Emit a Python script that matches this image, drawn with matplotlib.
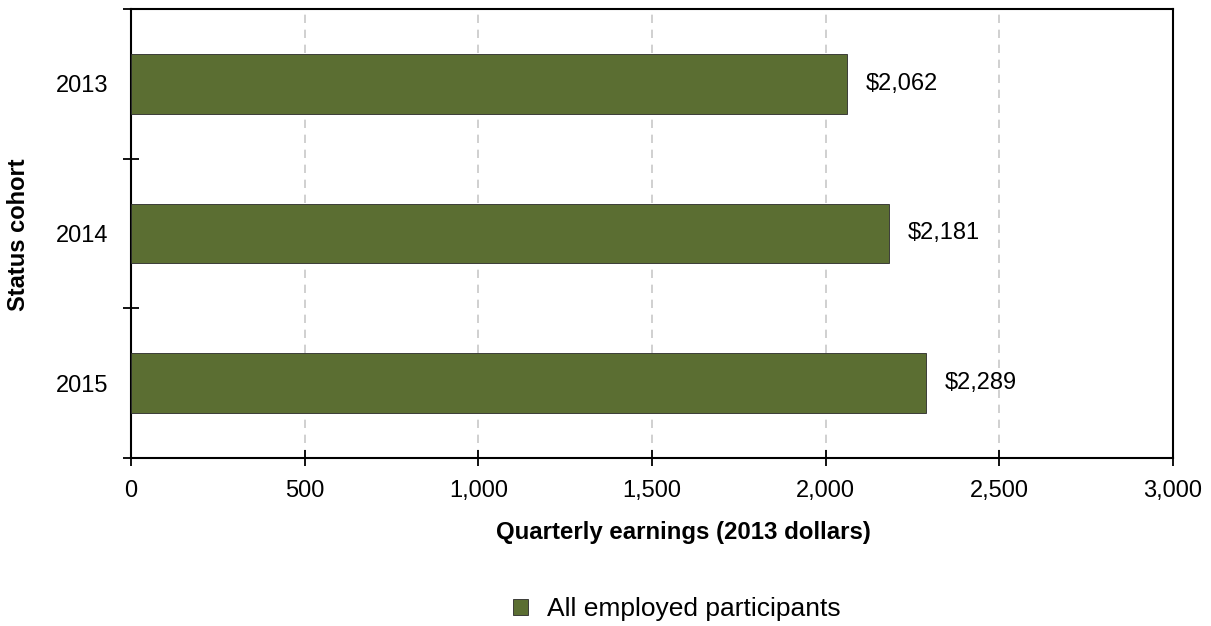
import matplotlib
matplotlib.use("Agg")
import matplotlib.pyplot as plt
from matplotlib.ticker import FuncFormatter, MultipleLocator, FixedLocator

plt.rcParams['font.family'] = ['Liberation Sans', 'DejaVu Sans']

categories = ["2013", "2014", "2015"]
values = [2062, 2181, 2289]
series_name = "All employed participants"
bar_color = "#5B6E32"

FS = 17.0
W, H = 1211, 626
fig = plt.figure(figsize=(W / 100, H / 100), dpi=100)
ax = fig.add_axes([131 / W, 1 - 458 / H, (1173 - 131) / W, (458 - 9) / H])

pos = list(range(len(categories)))
bars = ax.barh(pos, values, height=0.4, color=bar_color, edgecolor="#2a2a2a",
               linewidth=0.6, label=series_name, zorder=3)
for p, v in zip(pos, values):
    ax.annotate(f"${v:,}", xy=(v, p), xytext=(13.5, 0), textcoords="offset points",
                va="center", ha="left", fontsize=FS, zorder=4)

ax.set_xlim(0, 3000)
ax.set_ylim(len(categories) - 0.5, -0.5)
ax.xaxis.set_major_locator(MultipleLocator(500))
ax.xaxis.set_major_formatter(FuncFormatter(lambda x, _: f"{int(x):,}"))
ax.set_yticks(pos)
ax.set_yticklabels(categories)
ax.yaxis.set_minor_locator(FixedLocator([-0.5, 0.5, 1.5, 2.5]))
ax.tick_params(axis="y", which="major", length=0, labelsize=FS, pad=16)
ax.tick_params(axis="y", which="minor", direction="inout", length=11, width=1.3)
ax.tick_params(axis="x", which="major", direction="inout", length=11, width=1.3,
               labelsize=FS, pad=10)
ax.grid(axis="x", linestyle=(0, (5, 4)), color="#c8c8c8", linewidth=1.2, zorder=0)
for s in ax.spines.values():
    s.set_linewidth(1.5)
    s.set_color("black")

fig.text(683 / W, 1 - 532 / H, "Quarterly earnings (2013 dollars)", fontsize=17.3,
         fontweight="bold", ha="center", va="center")
fig.text(19 / W, 1 - 235 / H, "Status cohort", fontsize=FS, fontweight="bold",
         ha="center", va="center", rotation=90)

fig.legend(handles=[bars], labels=[series_name], loc="center",
           bbox_to_anchor=(677 / W, 1 - 609 / H), frameon=False, fontsize=19,
           handlelength=0.57, handleheight=0.57, handletextpad=0.72)

fig.savefig("out.png", dpi=100)
